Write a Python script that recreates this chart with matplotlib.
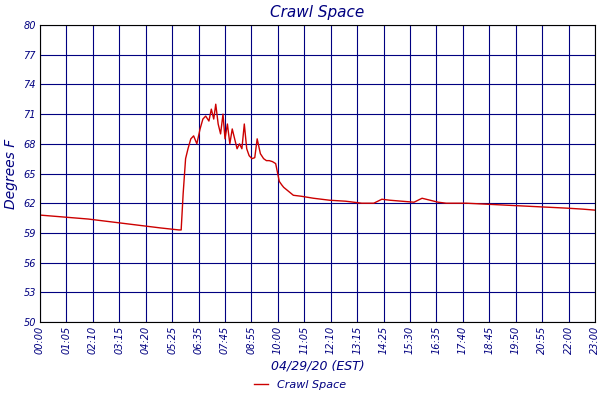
import matplotlib
matplotlib.use("Agg")
import matplotlib.pyplot as plt

tick_labels = ["00:00","01:05","02:10","03:15","04:20","05:25","06:35","07:45","08:55","10:00","11:05",
               "12:10","13:15","14:25","15:30","16:35","17:40","18:45","19:50","20:55","22:00","23:00"]
y_ticks = [50,53,56,59,62,65,68,71,74,77,80]
times = [0,60,120,180,240,300,345,351,356,362,368,375,382,390,398,405,412,420,426,432,437,443,449,455,460,
         466,472,478,484,490,496,502,508,514,520,527,534,540,548,556,563,570,578,586,595,602,606,615,630,650,
         680,720,760,800,830,850,870,900,930,950,970,990,1010,1060,1110,1160,1210,1260,1310,1350,1380]
temps = [60.8,60.6,60.4,60.1,59.8,59.5,59.3,59.3,63.0,66.5,67.5,68.5,68.8,68.0,69.5,70.5,70.8,70.3,71.5,
         70.5,72.0,70.0,69.0,71.0,68.5,70.0,68.0,69.5,68.5,67.5,68.0,67.5,70.0,67.5,66.8,66.5,66.6,68.5,
         67.0,66.5,66.3,66.3,66.2,66.0,64.2,63.8,63.6,63.3,62.8,62.7,62.5,62.3,62.2,62.0,62.0,62.4,62.3,
         62.2,62.1,62.5,62.3,62.1,62.0,62.0,61.9,61.8,61.7,61.6,61.5,61.4,61.3]

navy = "#000080"
fig = plt.figure(figsize=(6, 4), dpi=100)
ax = fig.add_axes([40/600, 78/400, 555/600, 297/400])
ax.plot(times, temps, color="#cc0000", lw=1, label="Crawl Space")
ax.set_xlim(0, 1380)
ax.set_ylim(50, 80)
xt = [i * 1380 / 21 for i in range(22)]
ax.set_xticks(xt)
ax.set_xticklabels(tick_labels, rotation=90, fontsize=7, color=navy, style="italic")
ax.set_yticks(y_ticks)
ax.set_yticklabels([str(v) for v in y_ticks], fontsize=7, color=navy, style="italic")
ax.grid(True, color=navy, lw=0.8)
ax.tick_params(length=0, pad=3)
for s in ax.spines.values():
    s.set_color("black")
ax.set_title("Crawl Space", color=navy, fontsize=11, style="italic", pad=6)
ax.set_ylabel("Degrees F", color=navy, fontsize=10, style="italic", labelpad=4)
ax.set_xlabel("04/29/20 (EST)", color=navy, fontsize=9, style="italic", labelpad=4)
fig.legend(loc="lower center", bbox_to_anchor=(0.5, 0.0), frameon=False, fontsize=8,
           labelcolor=navy, prop={"style": "italic", "size": 8}, handlelength=1.2)
fig.savefig("out.png", dpi=100)
